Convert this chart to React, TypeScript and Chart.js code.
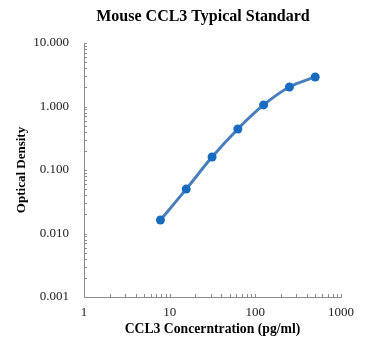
import React, { useEffect, useRef } from 'react';
import { Chart, registerables } from 'chart.js';
Chart.register(...registerables);

const TITLE = 'Mouse CCL3 Typical Standard';
const X_TITLE = 'CCL3 Concerntration (pg/ml)';
const Y_TITLE = 'Optical Density';
const concentrations = [7.8, 15.6, 31.25, 62.5, 125, 250, 500];
const odValues = [0.0163, 0.05, 0.16, 0.443, 1.06, 2.03, 2.92];
const X_MIN = 1;
const X_MAX = 1000;
const Y_MIN = 0.001;
const Y_MAX = 10;

const FONT = "'Liberation Serif', 'Times New Roman', serif";
const AXIS_COLOR = '#8c8c8c';

const isPow10 = (v: number) => Math.abs(Math.log10(v) - Math.round(Math.log10(v))) < 1e-9;
const logTicks = (min: number, max: number) => {
  const out: number[] = [];
  for (let e = Math.round(Math.log10(min)); e <= Math.round(Math.log10(max)); e++) {
    for (let m = 1; m <= 9; m++) {
      const v = m * Math.pow(10, e);
      if (v >= min * 0.999 && v <= max * 1.001) out.push(Number(v.toPrecision(6)));
    }
  }
  return out;
};

const tickMarks = {
  id: 'tickMarks',
  beforeDatasetsDraw(chart: any) {
    const { ctx, chartArea, scales } = chart;
    ctx.save();
    ctx.strokeStyle = AXIS_COLOR;
    ctx.lineWidth = 1;
    ctx.beginPath();
    for (const t of scales.x.ticks) {
      const px = Math.round(scales.x.getPixelForValue(t.value)) + 0.5;
      ctx.moveTo(px, chartArea.bottom);
      ctx.lineTo(px, chartArea.bottom - 3);
    }
    for (const t of scales.y.ticks) {
      const py = Math.round(scales.y.getPixelForValue(t.value)) + 0.5;
      ctx.moveTo(chartArea.left, py);
      ctx.lineTo(chartArea.left + 3, py);
    }
    ctx.stroke();
    ctx.restore();
  },
};

const titlePlugin = {
  id: 'customTitle',
  afterDraw(chart: any) {
    const { ctx } = chart;
    ctx.save();
    ctx.font = `bold 16px ${FONT}`;
    ctx.fillStyle = '#000';
    ctx.textAlign = 'center';
    ctx.textBaseline = 'middle';
    ctx.fillText(TITLE, 203, 17);
    ctx.restore();
  },
};

export default function App() {
  const ref = useRef<HTMLCanvasElement>(null);
  useEffect(() => {
    if (!ref.current) return;
    const points = concentrations.map((x, i) => ({ x, y: odValues[i] }));
    const chart = new Chart(ref.current, {
      type: 'scatter',
      data: {
        datasets: [
          {
            data: points,
            showLine: true,
            tension: 0.4,
            borderColor: 'rgb(74,126,187)',
            borderWidth: 3,
            pointRadius: 0,
            order: 2,
          },
          {
            data: points,
            showLine: false,
            pointRadius: 4.5,
            pointBackgroundColor: 'rgb(24,108,192)',
            pointBorderColor: 'rgb(24,108,192)',
            pointBorderWidth: 0,
            order: 1,
          },
        ],
      },
      plugins: [tickMarks, titlePlugin],
      options: {
        responsive: false,
        animation: false,
        layout: { padding: { top: 43, right: 29, left: 0, bottom: 0 } },
        plugins: { legend: { display: false }, tooltip: { enabled: false }, title: { display: false } },
        scales: {
          x: {
            type: 'logarithmic',
            min: X_MIN,
            max: X_MAX,
            afterBuildTicks: (s: any) => {
              s.ticks = logTicks(X_MIN, X_MAX).map((v) => ({ value: v, major: isPow10(v) }));
            },
            afterFit: (s: any) => {
              s.height = 55;
            },
            grid: { display: false, drawTicks: false },
            border: { display: true, color: AXIS_COLOR, width: 1 },
            ticks: {
              autoSkip: false,
              maxRotation: 0,
              padding: 8,
              color: '#222',
              font: { family: FONT, size: 13 },
              callback: (v: any) => (isPow10(Number(v)) ? String(Number(v)) : ''),
            },
            title: {
              display: true,
              text: X_TITLE,
              color: '#000',
              font: { family: FONT, size: 13.7, weight: 'bold' },
              padding: { top: 0, bottom: 14 },
            },
          },
          y: {
            type: 'logarithmic',
            min: Y_MIN,
            max: Y_MAX,
            afterBuildTicks: (s: any) => {
              s.ticks = logTicks(Y_MIN, Y_MAX).map((v) => ({ value: v, major: isPow10(v) }));
            },
            afterFit: (s: any) => {
              s.width = 84;
            },
            grid: { display: false, drawTicks: false },
            border: { display: true, color: AXIS_COLOR, width: 1 },
            ticks: {
              autoSkip: false,
              padding: 15,
              color: '#222',
              font: { family: FONT, size: 13 },
              callback: (v: any) => (isPow10(Number(v)) ? Number(v).toFixed(3) : ''),
            },
            title: {
              display: true,
              text: Y_TITLE,
              color: '#000',
              font: { family: FONT, size: 13, weight: 'bold' },
              padding: { top: 14, bottom: 0 },
            },
          },
        },
      },
    });
    return () => chart.destroy();
  }, []);
  return (
    <div style={{ position: 'fixed', left: 0, top: 0, width: 370, height: 352, background: '#fff' }}>
      <canvas ref={ref} width={370} height={352} style={{ display: 'block' }} />
    </div>
  );
}
